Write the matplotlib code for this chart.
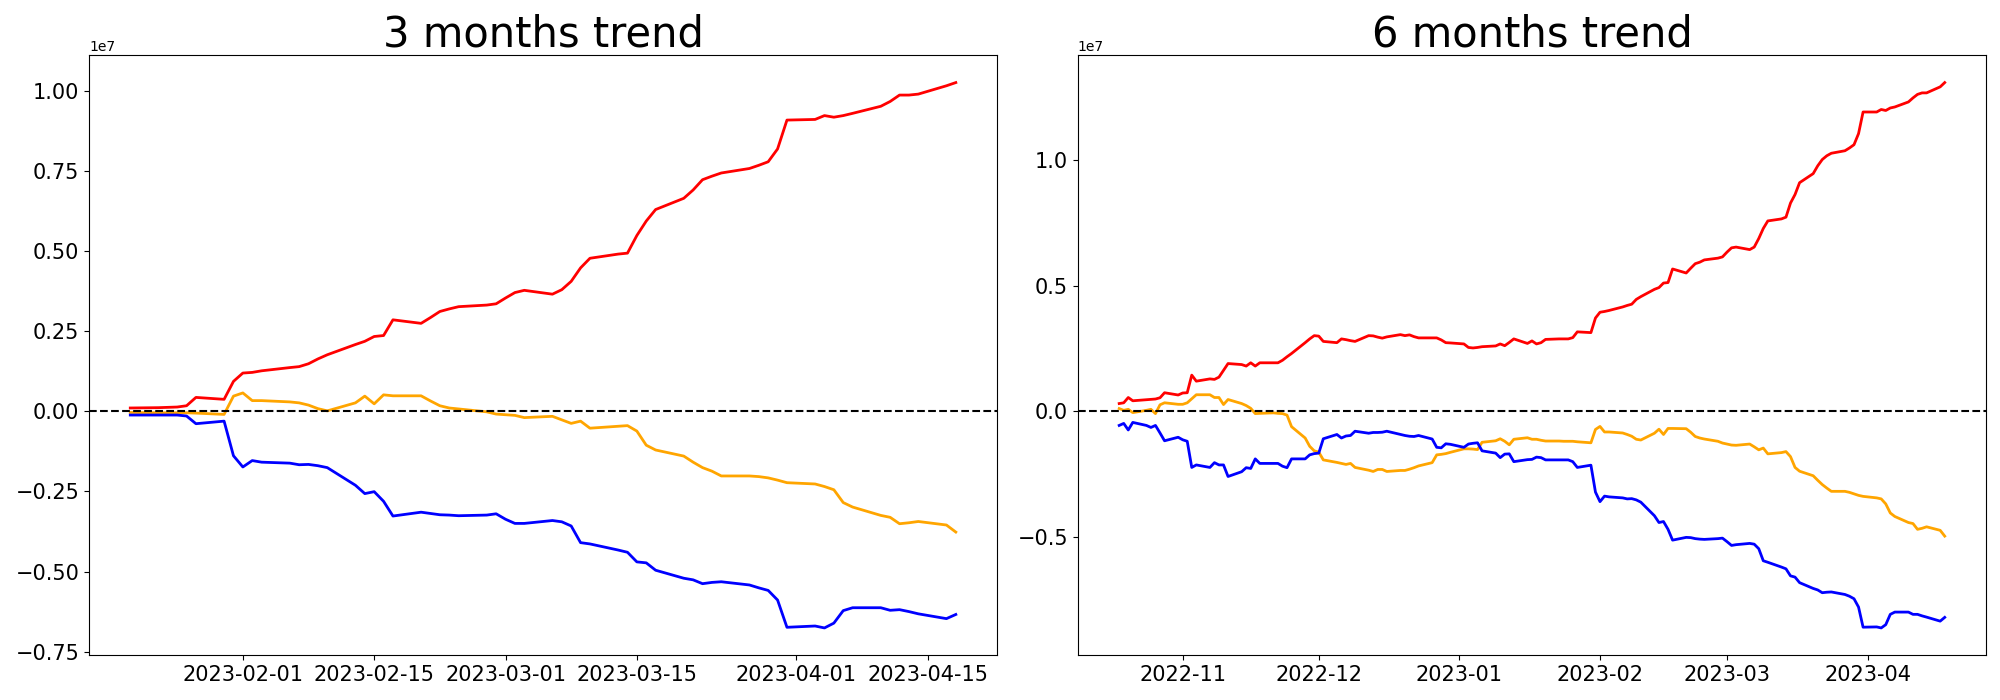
import numpy as np
import pandas as pd
import matplotlib
matplotlib.use("Agg")
import matplotlib.pyplot as plt

# business days shown in each panel
dates_3m = pd.bdate_range("2023-01-20", "2023-04-18")
dates_6m = pd.bdate_range("2022-10-18", "2023-04-18")

# values, in millions
red_3m = [0.10, 0.11, 0.12, 0.13, 0.17, 0.43, 0.37, 0.93,
          1.19, 1.21, 1.26, 1.36, 1.39, 1.48, 1.63, 1.76, 2.08, 2.18, 2.33, 2.36, 2.85, 2.74, 2.92, 3.11, 3.19, 3.26, 3.31, 3.35,
          3.53, 3.70, 3.77, 3.65, 3.79, 4.05, 4.47, 4.77, 4.90, 4.93, 5.48, 5.93, 6.29, 6.64, 6.90, 7.22, 7.33, 7.43, 7.57, 7.67, 7.78, 8.18, 9.08,
          9.10, 9.22, 9.17, 9.22, 9.29, 9.51, 9.66, 9.86, 9.86, 9.89, 10.15, 10.25]
orange_3m = [-0.04, -0.05, -0.05, -0.05, -0.05, -0.06, -0.10, 0.47,
             0.57, 0.33, 0.33, 0.29, 0.26, 0.19, 0.08, 0.01, 0.26, 0.47, 0.23, 0.51, 0.48, 0.48, 0.32, 0.17, 0.10, 0.07, -0.02, -0.09,
             -0.11, -0.13, -0.20, -0.16, -0.27, -0.38, -0.31, -0.53, -0.47, -0.45, -0.62, -1.06, -1.21, -1.40, -1.59, -1.76, -1.87, -2.02, -2.02, -2.04, -2.08, -2.15, -2.23,
             -2.27, -2.35, -2.45, -2.85, -2.99, -3.25, -3.31, -3.51, -3.48, -3.44, -3.55, -3.77]
blue_3m = [-0.12, -0.12, -0.12, -0.12, -0.15, -0.39, -0.31, -1.39,
           -1.74, -1.54, -1.59, -1.62, -1.67, -1.66, -1.70, -1.76, -2.31, -2.57, -2.51, -2.81, -3.27, -3.15, -3.19, -3.23, -3.24, -3.26, -3.24, -3.20,
           -3.37, -3.50, -3.50, -3.41, -3.45, -3.58, -4.10, -4.14, -4.33, -4.40, -4.70, -4.73, -4.96, -5.21, -5.26, -5.38, -5.34, -5.32, -5.42, -5.51, -5.59, -5.89, -6.74,
           -6.70, -6.76, -6.61, -6.22, -6.13, -6.13, -6.21, -6.19, -6.25, -6.32, -6.47, -6.34]

red_6m = [0.31, 0.34, 0.55, 0.42, 0.46, 0.47, 0.49, 0.54, 0.74, 0.65,
          0.73, 0.74, 1.44, 1.20, 1.29, 1.27, 1.36, 1.63, 1.90, 1.86, 1.80, 1.93, 1.80, 1.93, 1.93, 1.93, 2.03, 2.17, 2.30, 2.73, 2.88, 3.01,
          2.99, 2.78, 2.73, 2.88, 2.85, 2.81, 2.78, 3.01, 3.00, 2.95, 2.91, 2.96, 3.05, 3.01, 3.04, 2.97, 2.92, 2.92, 2.92, 2.84, 2.73, 2.72,
          2.68, 2.54, 2.52, 2.54, 2.57, 2.60, 2.68, 2.61, 2.74, 2.88, 2.70, 2.80, 2.68, 2.73, 2.86, 2.88, 2.88, 2.88, 2.93, 3.16, 3.13, 3.71,
          3.94, 3.97, 4.01, 4.15, 4.21, 4.26, 4.45, 4.56, 4.85, 4.92, 5.10, 5.12, 5.66, 5.50, 5.69, 5.87, 5.93, 6.02, 6.09, 6.14,
          6.33, 6.50, 6.53, 6.43, 6.53, 6.87, 7.27, 7.57, 7.65, 7.72, 8.28, 8.62, 9.09, 9.45, 9.76, 10.01, 10.16, 10.26, 10.36, 10.47, 10.60, 11.04, 11.90,
          11.90, 12.00, 11.96, 12.06, 12.10, 12.30, 12.46, 12.60, 12.66, 12.66, 12.90, 13.07]
orange_6m = [0.11, 0.04, 0.08, -0.05, 0.04, 0.08, -0.09, 0.26, 0.34, 0.28,
             0.28, 0.34, 0.50, 0.66, 0.66, 0.55, 0.55, 0.27, 0.47, 0.31, 0.23, 0.12, -0.09, -0.08, -0.06, -0.08, -0.09, -0.15, -0.61, -1.06, -1.39, -1.57,
             -1.62, -1.93, -2.03, -2.07, -2.11, -2.07, -2.23, -2.34, -2.39, -2.31, -2.31, -2.39, -2.35, -2.35, -2.30, -2.24, -2.17, -2.04, -1.73, -1.71, -1.68, -1.63,
             -1.49, -1.49, -1.50, -1.52, -1.23, -1.17, -1.09, -1.19, -1.33, -1.11, -1.05, -1.11, -1.11, -1.15, -1.18, -1.18, -1.19, -1.19, -1.19, -1.21, -1.25, -0.72,
             -0.60, -0.82, -0.82, -0.86, -0.92, -0.99, -1.11, -1.14, -0.87, -0.71, -0.92, -0.68, -0.68, -0.69, -0.83, -1.00, -1.06, -1.10, -1.19, -1.26,
             -1.30, -1.34, -1.35, -1.30, -1.41, -1.53, -1.46, -1.69, -1.64, -1.60, -1.80, -2.23, -2.38, -2.56, -2.74, -2.91, -3.05, -3.18, -3.18, -3.22, -3.28, -3.34, -3.38,
             -3.44, -3.48, -3.68, -4.04, -4.18, -4.42, -4.46, -4.69, -4.65, -4.59, -4.73, -4.96]
blue_6m = [-0.56, -0.48, -0.74, -0.44, -0.56, -0.64, -0.56, -0.86, -1.17, -1.03,
           -1.13, -1.19, -2.23, -2.13, -2.23, -2.04, -2.13, -2.13, -2.59, -2.40, -2.24, -2.27, -1.89, -2.07, -2.07, -2.07, -2.18, -2.24, -1.89, -1.89, -1.73, -1.68,
           -1.66, -1.09, -0.92, -1.06, -0.98, -0.96, -0.79, -0.87, -0.84, -0.84, -0.83, -0.79, -0.92, -0.96, -0.99, -1.00, -0.96, -1.10, -1.43, -1.45, -1.29, -1.31,
           -1.43, -1.30, -1.27, -1.25, -1.57, -1.66, -1.84, -1.70, -1.69, -2.00, -1.92, -1.91, -1.82, -1.84, -1.93, -1.93, -1.93, -1.93, -2.00, -2.23, -2.14, -3.21,
           -3.59, -3.37, -3.40, -3.44, -3.48, -3.47, -3.52, -3.61, -4.15, -4.42, -4.38, -4.69, -5.12, -5.01, -5.02, -5.06, -5.08, -5.09, -5.06, -5.04,
           -5.18, -5.33, -5.30, -5.25, -5.28, -5.46, -5.94, -6.00, -6.19, -6.26, -6.54, -6.59, -6.81, -7.04, -7.10, -7.21, -7.19, -7.18, -7.28, -7.35, -7.45, -7.78, -8.58,
           -8.57, -8.61, -8.48, -8.07, -7.98, -7.98, -8.07, -8.07, -8.13, -8.18, -8.34, -8.19]

panels = [("3 months trend", dates_3m, red_3m, orange_3m, blue_3m),
          ("6 months trend", dates_6m, red_6m, orange_6m, blue_6m)]

fig, axes = plt.subplots(1, 2, figsize=(20, 7))
plt.subplots_adjust(left=0.0445, right=0.993, bottom=0.064, top=0.921, wspace=0.089)

for ax, (title, dates, red, orange, blue) in zip(axes, panels):
    ax.plot(dates, np.array(red) * 1e6, color="red", linewidth=2)
    ax.plot(dates, np.array(orange) * 1e6, color="orange", linewidth=2)
    ax.plot(dates, np.array(blue) * 1e6, color="blue", linewidth=2)
    ax.axhline(0, color="black", linestyle="--", linewidth=1.5)
    ax.set_title(title, fontsize=30)
    plt.sca(ax)
    plt.xticks(fontsize=15)
    plt.yticks(fontsize=15)

plt.savefig("out.png", dpi=100)
